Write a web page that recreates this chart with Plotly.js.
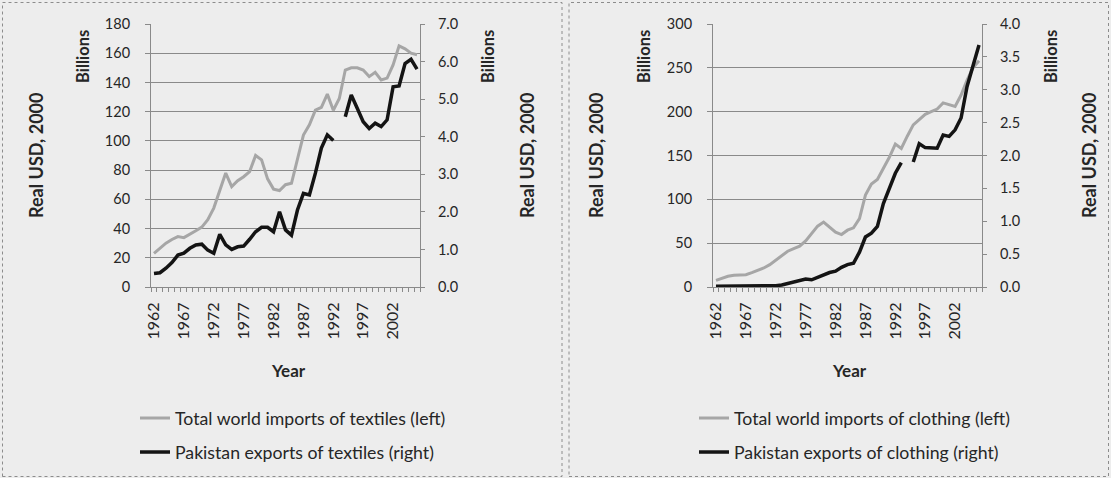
<!DOCTYPE html>
<html>
<head>
<meta charset="utf-8">
<script src="https://cdn.plot.ly/plotly-3.0.1.min.js"></script>
<style>
  html, body { margin: 0; padding: 0; background: #ededed; }
  #chart { width: 1111px; height: 478px; }
</style>
</head>
<body>
<div id="chart"></div>
<script>
// Years on the category axis
const years = [1962, 1963, 1964, 1965, 1966, 1967, 1968, 1969, 1970, 1971,
               1972, 1973, 1974, 1975, 1976, 1977, 1978, 1979, 1980, 1981,
               1982, 1983, 1984, 1985, 1986, 1987, 1988, 1989, 1990, 1991,
               1992, 1993, 1994, 1995, 1996, 1997, 1998, 1999, 2000, 2001,
               2002, 2003, 2004, 2005, 2006];
const yearLabels = [1962, 1967, 1972, 1977, 1982, 1987, 1992, 1997, 2002];

// Textiles (billions, real USD 2000)
const textileWorld = [23, 26.5, 30, 32.5, 34.5, 33.8, 36, 38.5, 41, 46,
                      54, 66, 78, 68.7, 72.8, 75.5, 79, 90, 87, 74,
                      67, 66, 70, 71, 88, 104, 111, 121, 123, 132,
                      121, 129, 148.5, 150, 150, 148.5, 144, 147, 141.7, 143,
                      152, 165, 163, 160, 159];
const textilePakistan = [0.36, 0.38, 0.5, 0.65, 0.85, 0.9, 1.03, 1.12, 1.14, 0.98,
                         0.9, 1.4, 1.12, 1.0, 1.07, 1.09, 1.27, 1.47, 1.59, 1.59,
                         1.47, 2.0, 1.52, 1.38, 2.05, 2.49, 2.45, 3.03, 3.7, 4.05,
                         3.9, null, 4.53, 5.11, 4.76, 4.4, 4.22, 4.36, 4.27, 4.45,
                         5.33, 5.35, 5.95, 6.06, 5.8];

// Clothing (billions, real USD 2000)
const clothingWorld = [7.6, 10.3, 12.2, 13.3, 14.1, 14.1, 16.4, 19, 21.7, 25.5,
                       30.5, 36, 40.8, 43.8, 46.5, 52.6, 61, 69.4, 74, 68.6,
                       62.5, 59.8, 64.8, 67.5, 78, 104.8, 117.4, 122.7, 135, 148,
                       163, 158, 172, 185, 191, 197, 200, 203, 210, 208,
                       206, 219, 236, 250, 258];
const clothingPakistan = [0.01, 0.01, 0.01, 0.01, 0.01, 0.01, 0.02, 0.02, 0.02, 0.02,
                          0.02, 0.03, 0.05, 0.08, 0.1, 0.12, 0.11, 0.15, 0.19, 0.22,
                          0.24, 0.3, 0.34, 0.36, 0.53, 0.76, 0.82, 0.92, 1.27, 1.5,
                          1.73, 1.89, null, 1.9, 2.18, 2.12, 2.12, 2.11, 2.31, 2.29,
                          2.39, 2.57, 3.05, 3.35, 3.68];

const seriesNames = {
  textileWorld: 'Total world imports of textiles (left)',
  textilePakistan: 'Pakistan exports of textiles (right)',
  clothingWorld: 'Total world imports of clothing (left)',
  clothingPakistan: 'Pakistan exports of clothing (right)'
};

// Pixel helpers for placing things in paper coordinates
const W = 1111, H = 478;
const px = x => x / W;
const py = y => 1 - y / H;

const FONT = 'Lato, "Open Sans", sans-serif';
const TEXT = '#262626';
const GRID = '#8a8a8a';
const AXIS = '#8a8a8a';
const GREY_LINE = '#a6a6a6';
const DARK_LINE = '#141414';

const traces = [
  { x: years, y: textileWorld, xaxis: 'x', yaxis: 'y', type: 'scatter', mode: 'lines',
    name: seriesNames.textileWorld, legend: 'legend', legendgroup: 'tw',
    line: { color: GREY_LINE, width: 3 } },
  { x: years, y: textilePakistan, xaxis: 'x', yaxis: 'y2', type: 'scatter', mode: 'lines',
    name: seriesNames.textilePakistan, legend: 'legend', legendgroup: 'tp',
    line: { color: DARK_LINE, width: 3.5 } },
  { x: years, y: clothingWorld, xaxis: 'x2', yaxis: 'y3', type: 'scatter', mode: 'lines',
    name: seriesNames.clothingWorld, legend: 'legend2', legendgroup: 'cw',
    line: { color: GREY_LINE, width: 3 } },
  { x: years, y: clothingPakistan, xaxis: 'x2', yaxis: 'y4', type: 'scatter', mode: 'lines',
    name: seriesNames.clothingPakistan, legend: 'legend2', legendgroup: 'cp',
    line: { color: DARK_LINE, width: 3.5 } }
];

const plotTop = 24, plotBottom = 287;
const yDomain = [py(plotBottom), py(plotTop)];

function xAxis(left, right, anchor) {
  return {
    domain: [px(left), px(right)], anchor: anchor,
    range: [1961.5, 2006.5], fixedrange: true,
    tickmode: 'array', tickvals: yearLabels, ticktext: yearLabels.map(String),
    tickangle: -90, ticks: '', ticklabelstandoff: 8,
    tickfont: { family: FONT, size: 16, color: TEXT },
    minor: { ticks: 'outside', tick0: 1961.5, dtick: 1, ticklen: 4, tickcolor: AXIS, tickwidth: 1 },
    showline: true, linecolor: AXIS, linewidth: 1,
    showgrid: false, zeroline: false
  };
}

function leftAxis(anchor, max, step, fmt) {
  return {
    domain: yDomain, anchor: anchor, range: [0, max], dtick: step, tick0: 0,
    tickformat: fmt, fixedrange: true,
    ticks: 'outside', ticklen: 5, tickcolor: AXIS, ticklabelstandoff: 12,
    tickfont: { family: FONT, size: 14.5, color: TEXT },
    showline: true, linecolor: AXIS, linewidth: 1,
    showgrid: true, gridcolor: GRID, gridwidth: 1, zeroline: false
  };
}

function rightAxis(anchor, over, max, step) {
  return {
    domain: yDomain, anchor: anchor, overlaying: over, side: 'right',
    range: [0, max], dtick: step, tick0: 0, tickformat: '.1f', fixedrange: true,
    ticks: 'outside', ticklen: 4, tickcolor: AXIS, ticklabelstandoff: 10,
    tickfont: { family: FONT, size: 14.5, color: TEXT },
    showline: true, linecolor: AXIS, linewidth: 1,
    showgrid: false, zeroline: false
  };
}

function label(text, x, y, size, rotate) {
  return {
    text: text, xref: 'paper', yref: 'paper', x: px(x), y: py(y),
    xanchor: 'center', yanchor: 'middle', showarrow: false,
    textangle: rotate ? -90 : 0,
    font: { family: FONT, size: size, color: TEXT, weight: 'bold' }
  };
}

function legendBox(x, y) {
  return {
    x: px(x), y: py(y), xanchor: 'left', yanchor: 'top',
    bgcolor: 'rgba(0,0,0,0)', borderwidth: 0,
    traceorder: 'grouped', tracegroupgap: 8, itemwidth: 30,
    font: { family: FONT, size: 17.7, color: TEXT }
  };
}

function panel(x0, x1) {
  return {
    type: 'rect', xref: 'paper', yref: 'paper',
    x0: px(x0), x1: px(x1), y0: py(476.5), y1: py(2.5),
    line: { color: '#8c8c8c', width: 1, dash: 'dot' }, fillcolor: 'rgba(0,0,0,0)'
  };
}

const layout = {
  width: W, height: H,
  margin: { l: 0, r: 0, t: 0, b: 0 },
  paper_bgcolor: '#ededed', plot_bgcolor: '#ededed',
  font: { family: FONT, color: TEXT },
  xaxis: xAxis(151, 420, 'y'),
  yaxis: leftAxis('x', 180, 20, 'd'),
  yaxis2: rightAxis('x', 'y', 7, 1),
  xaxis2: xAxis(713, 982, 'y3'),
  yaxis3: leftAxis('x2', 300, 50, 'd'),
  yaxis4: rightAxis('x2', 'y3', 4, 0.5),
  legend: legendBox(135, 400),
  legend2: legendBox(694, 400),
  annotations: [
    label('Real USD, 2000', 36, 156, 18, true),
    label('Billions', 83, 57, 16.5, true),
    label('Billions', 488, 57, 16.5, true),
    label('Real USD, 2000', 527, 156, 18, true),
    label('Year', 288, 370, 17, false),
    label('Real USD, 2000', 596, 156, 18, true),
    label('Billions', 644, 57, 16.5, true),
    label('Billions', 1051, 57, 16.5, true),
    label('Real USD, 2000', 1089, 156, 18, true),
    label('Year', 849, 370, 17, false)
  ],
  shapes: [panel(2.5, 562), panel(569, 1108.5)],
  showlegend: true
};

Plotly.newPlot('chart', traces, layout, { displayModeBar: false, staticPlot: true });
</script>
</body>
</html>
